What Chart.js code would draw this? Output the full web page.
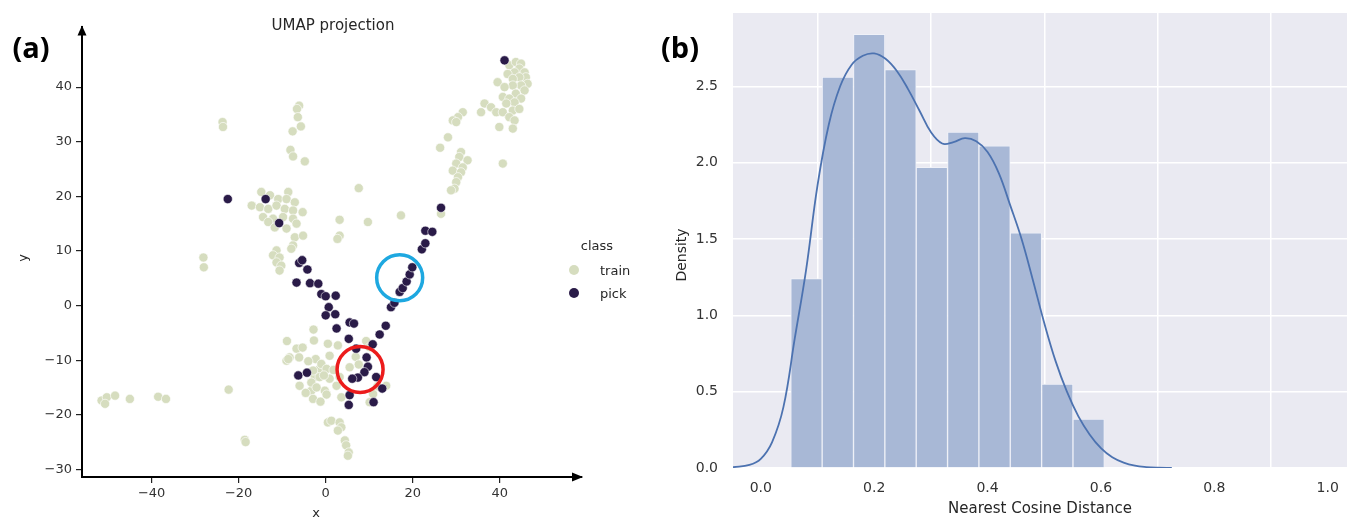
<!DOCTYPE html>
<html>
<head>
<meta charset="utf-8">
<script src="https://cdn.jsdelivr.net/npm/chart.js@4.4.1/dist/chart.umd.min.js"></script>
<style>
body{margin:0;background:#fff;width:1347px;height:518px;overflow:hidden;position:relative;font-family:"DejaVu Sans",sans-serif;}
.box{position:absolute;top:0;height:518px;}
#boxA{left:0;width:640px;}
#boxB{left:640px;width:707px;}
.lbl{position:absolute;white-space:nowrap;color:#262626;transform:translate(-50%,-50%);}
.panel{font-family:"Open Sans",sans-serif;font-weight:700;font-size:29px;color:#000;}
.dot{position:absolute;width:10px;height:10px;border-radius:50%;transform:translate(-50%,-50%);}
</style>
</head>
<body>
<div class="box" id="boxA"><canvas id="chartA" width="640" height="518"></canvas></div>
<div class="box" id="boxB"><canvas id="chartB" width="707" height="518"></canvas></div>

<div class="lbl panel" style="left:31px;top:46px;">(a)</div>
<div class="lbl panel" style="left:680px;top:46px;">(b)</div>
<div class="lbl" style="left:333px;top:25px;font-size:15px;">UMAP projection</div>
<div class="lbl" style="left:316px;top:512px;font-size:13px;">x</div>
<div class="lbl" style="left:22px;top:258px;font-size:13px;transform:translate(-50%,-50%) rotate(-90deg);">y</div>
<div class="lbl" style="left:681px;top:255px;font-size:14px;transform:translate(-50%,-50%) rotate(-90deg);">Density</div>
<div class="lbl" style="left:1040px;top:508px;font-size:15px;">Nearest Cosine Distance</div>

<!-- legend panel (a) -->
<div class="lbl" style="left:597px;top:245px;font-size:13px;">class</div>
<div class="dot" style="left:574px;top:270px;background:#d6ddbf;"></div>
<div class="lbl" style="left:600px;top:270px;font-size:13px;transform:translate(0,-50%);">train</div>
<div class="dot" style="left:574px;top:293px;background:#2a1b48;"></div>
<div class="lbl" style="left:600px;top:293px;font-size:13px;transform:translate(0,-50%);">pick</div>

<script>
// ---- panel (a): UMAP projection ----
const trainPts = [
  [-6.1,36.6],[-6.6,36.0],[-6.4,34.5],[-5.7,32.8],[-7.6,31.9],[-8.1,28.5],[-7.5,27.3],[-4.8,26.4],
  [-23.7,33.6],[-23.6,32.7],
  [-14.8,20.8],[-12.8,20.2],[-10.9,19.5],[-8.6,20.8],[-9.0,19.5],[-7.1,18.9],[-17.0,18.3],[-15.1,18.0],
  [-13.2,17.7],[-11.3,18.3],[-9.4,17.7],[-7.5,17.4],[-5.3,17.1],[-14.4,16.2],[-12.1,15.9],[-9.8,16.2],
  [-7.5,15.9],[-13.2,15.3],[-11.7,14.3],[-9.0,14.1],[-6.7,15.0],[-7.1,12.5],[-5.2,12.8],[-7.5,11.0],
  [-7.9,10.4],[-11.3,10.1],[-12.1,9.2],[-10.6,8.8],[-11.3,7.9],[-10.2,7.3],[-10.6,6.4],
  [7.6,21.5],[3.2,15.7],[9.7,15.3],[3.2,12.8],[2.7,12.2],[17.3,16.5],
  [-28.1,8.8],[-28.0,7.0],
  [-51.5,-17.4],[-50.3,-16.8],[-48.4,-16.5],[-50.7,-18.0],[-45.0,-17.1],[-38.5,-16.7],[-36.7,-17.1],
  [-22.3,-15.4],[-18.6,-24.6],[-18.4,-25.0],
  [-8.9,-6.5],[-6.7,-7.9],[-5.3,-7.7],[-2.8,-4.4],[-2.7,-6.4],[-9.0,-10.1],[-8.3,-9.5],[-6.1,-9.5],
  [-2.3,-9.8],[-6.0,-14.7],[-3.3,-15.6],[-2.9,-17.1],[-0.2,-15.6],[-2.5,-13.1],[-1.4,-11.6],[0.5,-21.4],
  [0.5,-7.0],[2.8,-7.3],[-8.6,-9.8],[0.9,-9.2],[-1.0,-10.7],[0.2,-11.6],[-2.9,-11.9],[-1.4,-13.1],
  [0.9,-13.4],[3.2,-13.1],[-3.3,-14.1],[-2.1,-15.0],[2.5,-14.7],[0.2,-16.3],[3.6,-16.8],
  [-4.0,-10.2],[-0.4,-12.8],[1.8,-11.8],[-4.6,-16.0],[-1.2,-17.6],[6.9,-9.4],[7.6,-10.8],[11.9,-14.8],
  [9.3,-6.5],[10.1,-7.6],[5.5,-11.3],[13.9,-14.7],[10.9,-16.2],[10.1,-17.7],
  [1.3,-21.1],[3.2,-21.4],[3.6,-22.3],[2.8,-22.9],[4.4,-24.7],[4.7,-25.6],[5.3,-26.9],[5.1,-27.5],
  [42.2,44.0],[43.7,44.6],[44.9,44.3],[44.5,43.4],[45.7,42.7],[43.4,42.7],[41.8,42.4],[46.0,41.8],
  [44.5,41.8],[43.0,41.5],[39.5,40.9],[46.4,40.6],[44.9,40.3],[43.0,40.3],[41.1,40.0],[45.7,39.4],
  [43.7,38.8],[40.7,38.2],[42.2,37.9],[44.9,37.9],[43.4,37.2],[41.5,37.0],[36.5,37.0],[38.0,36.3],
  [35.7,35.4],[39.2,35.4],[40.7,35.4],[43.0,35.7],[44.5,36.0],[42.2,34.5],[43.4,33.9],
  [31.5,35.4],[30.4,34.5],[29.2,33.9],[30.0,33.6],[39.9,32.7],[43.0,32.4],[28.1,30.8],[26.3,28.9],
  [31.1,28.1],[30.7,27.2],[32.6,26.6],[30.0,26.0],[31.5,25.3],[29.2,24.7],[31.1,24.4],[30.4,23.5],
  [30.0,22.6],[29.6,21.4],[28.8,21.1],[40.7,26.0],[26.5,16.8]
];
const pickPts = [
  [-22.5,19.5],[-13.8,19.5],[-10.7,15.1],[-6.1,7.8],[-5.4,8.3],[-4.2,6.6],[-6.7,4.2],[-3.6,4.1],
  [-1.7,4.0],[-1.0,2.1],[0.0,1.7],[2.3,1.8],[0.7,-0.3],[0.0,-1.8],[2.2,-1.6],[2.5,-4.2],
  [5.5,-3.1],[6.5,-3.3],[5.3,-6.1],[7.0,-7.9],[10.8,-7.1],[12.4,-5.3],[13.8,-3.7],[15.0,-0.3],
  [15.8,0.5],[17.0,2.5],[17.7,3.2],[18.6,4.4],[19.3,5.7],[19.9,7.0],[22.1,10.3],[22.9,11.4],
  [22.9,13.7],[24.5,13.5],[26.5,17.9],[41.1,44.9],
  [9.4,-9.5],[9.7,-11.2],[8.9,-12.2],[7.4,-13.2],[6.1,-13.4],[11.6,-13.1],[13.0,-15.2],
  [5.5,-16.4],[5.3,-18.2],[11.0,-17.7],[-6.3,-12.8],[-4.3,-12.3]
];
// highlight circles (blue, red)
const circlePts = [[17.0,5.1],[7.9,-11.7]];
const circleColors = ['#1ea8e0','#ec1c1c'];

const xTicksA = [-40,-20,0,20,40];
const yTicksA = [-30,-20,-10,0,10,20,30,40];

// ---- panel (b): histogram + kde ----
const binCenters = [0.0806,0.1359,0.1912,0.2465,0.3018,0.3571,0.4124,0.4677,0.5230,0.5783];
const binDensity = [1.24,2.56,2.84,2.61,1.97,2.20,2.11,1.54,0.55,0.32];
const kdeX = [-0.049,-0.02,0.0,0.02,0.04,0.06,0.08,0.10,0.12,0.14,0.16,0.18,0.20,0.22,0.24,0.26,0.28,0.30,
  0.32,0.34,0.36,0.38,0.40,0.42,0.44,0.46,0.48,0.50,0.52,0.54,0.56,0.58,0.60,0.62,0.64,0.66,0.68,0.70,0.725];
const kdeY = [0.005,0.02,0.06,0.17,0.40,0.85,1.30,1.85,2.25,2.50,2.64,2.70,2.715,2.68,2.60,2.48,2.34,2.20,
  2.125,2.135,2.16,2.14,2.07,1.93,1.72,1.50,1.23,0.95,0.70,0.50,0.34,0.22,0.13,0.07,0.035,0.015,0.006,0.002,0.0];
const xTicksB = [0.0,0.2,0.4,0.6,0.8,1.0];
const yTicksB = [0.0,0.5,1.0,1.5,2.0,2.5];

const bgPlugin = {
  id: 'bg',
  beforeDraw(chart, args, opts) {
    if (!opts.color) return;
    const {ctx, chartArea: a} = chart;
    ctx.save();
    ctx.fillStyle = opts.color;
    ctx.fillRect(a.left, a.top, a.right - a.left, a.bottom - a.top);
    ctx.restore();
  }
};

const arrowPlugin = {
  id: 'arrows',
  afterDraw(chart, args, opts) {
    if (!opts.on) return;
    const {ctx, chartArea: a} = chart;
    ctx.save();
    ctx.fillStyle = '#000';
    ctx.beginPath();
    ctx.moveTo(a.left, a.top - 1);
    ctx.lineTo(a.left - 4.5, a.top + 9);
    ctx.lineTo(a.left + 4.5, a.top + 9);
    ctx.fill();
    ctx.beginPath();
    ctx.moveTo(a.right + 1, a.bottom);
    ctx.lineTo(a.right - 10, a.bottom - 4.5);
    ctx.lineTo(a.right - 10, a.bottom + 4.5);
    ctx.fill();
    ctx.restore();
  }
};

const tickFontA = {family: 'DejaVu Sans', size: 13};
const tickFontB = {family: 'DejaVu Sans', size: 14};
const minus = v => String(v).replace('-', '\u2212');

// fixed box sizes, no extra label padding, so the plot areas land where the picture has them
function fitX(h) {
  return s => { s.height = h; s.paddingLeft = 0; s.paddingRight = 0; };
}
function fitY(w) {
  return s => { s.width = w; s.paddingTop = 0; s.paddingBottom = 0; };
}

new Chart(document.getElementById('chartA'), {
  type: 'scatter',
  data: {
    datasets: [
      {
        label: 'circles',
        data: circlePts.map(p => ({x: p[0], y: p[1]})),
        pointRadius: 23,
        pointBackgroundColor: 'rgba(0,0,0,0)',
        pointBorderColor: circleColors,
        pointBorderWidth: 3.5,
        order: 0
      },
      {
        label: 'pick',
        data: pickPts.map(p => ({x: p[0], y: p[1]})),
        pointRadius: 4.6,
        pointBackgroundColor: '#2a1b48',
        pointBorderColor: 'rgba(255,255,255,0.8)',
        pointBorderWidth: 0.7,
        order: 1
      },
      {
        label: 'train',
        data: trainPts.map(p => ({x: p[0], y: p[1]})),
        pointRadius: 4.6,
        pointBackgroundColor: '#d6ddbf',
        pointBorderColor: 'rgba(255,255,255,0.9)',
        pointBorderWidth: 0.7,
        order: 2
      }
    ]
  },
  options: {
    responsive: false,
    animation: false,
    events: [],
    layout: {padding: {top: 25, right: 58, left: 0, bottom: 0}},
    plugins: {legend: {display: false}, tooltip: {enabled: false}, arrows: {on: true}},
    scales: {
      x: {
        type: 'linear', min: -56.0, max: 58.9,
        afterFit: fitX(41),
        afterBuildTicks: s => { s.ticks = xTicksA.map(v => ({value: v})); },
        ticks: {font: tickFontA, color: '#333', padding: 3, callback: minus},
        grid: {drawOnChartArea: false, drawTicks: true, tickLength: 6, color: '#222', lineWidth: 1.2},
        border: {display: true, color: '#000', width: 2}
      },
      y: {
        type: 'linear', min: -31.4, max: 51.1,
        afterFit: fitY(82),
        afterBuildTicks: s => { s.ticks = yTicksA.map(v => ({value: v})); },
        ticks: {font: tickFontA, color: '#333', padding: 4, callback: minus},
        grid: {drawOnChartArea: false, drawTicks: true, tickLength: 6, color: '#222', lineWidth: 1.2},
        border: {display: true, color: '#000', width: 2}
      }
    }
  },
  plugins: [arrowPlugin]
});

new Chart(document.getElementById('chartB'), {
  data: {
    datasets: [
      {
        type: 'line',
        label: 'kde',
        data: kdeX.map((x, i) => ({x: x, y: kdeY[i]})),
        borderColor: '#4c72b0',
        borderWidth: 1.8,
        pointRadius: 0,
        tension: 0.4,
        fill: false,
        order: 0
      },
      {
        type: 'bar',
        label: 'hist',
        data: binCenters.map((x, i) => ({x: x, y: binDensity[i]})),
        backgroundColor: 'rgb(168,184,214)',
        borderColor: 'rgba(240,242,248,0.9)',
        borderWidth: 1,
        barPercentage: 1.0,
        categoryPercentage: 1.0,
        grouped: false,
        order: 1
      }
    ]
  },
  options: {
    responsive: false,
    animation: false,
    events: [],
    layout: {padding: {top: 13, right: 0, left: 0, bottom: 0}},
    plugins: {legend: {display: false}, tooltip: {enabled: false}, bg: {color: '#eaeaf2'}},
    scales: {
      x: {
        type: 'linear', min: -0.049, max: 1.034, offset: false,
        afterFit: fitX(50),
        afterBuildTicks: s => { s.ticks = xTicksB.map(v => ({value: v})); },
        ticks: {font: tickFontB, color: '#333', padding: 12, callback: v => v.toFixed(1)},
        grid: {color: '#ffffff', lineWidth: 1.5, drawTicks: false},
        border: {display: false}
      },
      y: {
        type: 'linear', min: 0, max: 2.98,
        afterFit: fitY(93),
        afterBuildTicks: s => { s.ticks = yTicksB.map(v => ({value: v})); },
        ticks: {font: tickFontB, color: '#333', padding: 15, callback: v => v.toFixed(1)},
        grid: {color: '#ffffff', lineWidth: 1.5, drawTicks: false},
        border: {display: false}
      }
    }
  },
  plugins: [bgPlugin]
});
</script>
</body>
</html>
